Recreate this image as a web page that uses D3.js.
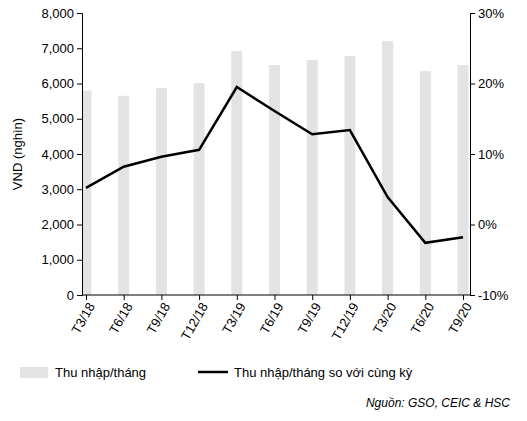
<!DOCTYPE html>
<html><head><meta charset="utf-8">
<script src="https://cdn.jsdelivr.net/npm/d3@7"></script>
<style>body{margin:0;background:#fff;font-family:Arial,"Liberation Sans",sans-serif}</style>
</head><body><svg id="c" width="527" height="421"></svg>
<script>
var categories = ['T3/18','T6/18','T9/18','T12/18','T3/19','T6/19','T9/19','T12/19','T3/20','T6/20','T9/20'];
var income = [5800, 5650, 5870, 6010, 6920, 6520, 6670, 6780, 7200, 6350, 6520];
var growth = [5.2, 8.2, 9.6, 10.6, 19.5, 16.1, 12.8, 13.4, 3.9, -2.6, -1.8];
var leftTicks = [0, 1000, 2000, 3000, 4000, 5000, 6000, 7000, 8000];
var rightTicks = [-10, 0, 10, 20, 30];

var svg = d3.select('svg#c');
var plotLeft = 82, plotRight = 470, plotTop = 13, plotBottom = 295;

var x = d3.scalePoint().domain(categories).range([86, 463]);
var y = d3.scaleLinear().domain([0, 8000]).range([plotBottom, plotTop]);
var y2 = d3.scaleLinear().domain([-10, 30]).range([plotBottom, plotTop]);

svg.append('clipPath').attr('id', 'pc')
    .append('rect').attr('x', plotLeft).attr('y', 0).attr('width', plotRight - plotLeft).attr('height', plotBottom);

svg.append('g').attr('clip-path', 'url(#pc)').selectAll('rect.bar')
    .data(income).enter().append('rect')
    .attr('x', function (d, i) { return x(categories[i]) - 5.5; })
    .attr('y', function (d) { return y(d); })
    .attr('width', 11)
    .attr('height', function (d) { return plotBottom - y(d); })
    .attr('fill', '#e3e3e3');

var fmt = d3.format(',');
var ga = svg.append('g').attr('transform', 'translate(' + plotLeft + ',0)')
    .call(d3.axisLeft(y).tickValues(leftTicks).tickFormat(fmt).tickSize(5));
var gb = svg.append('g').attr('transform', 'translate(' + plotRight + ',0)')
    .call(d3.axisRight(y2).tickValues(rightTicks).tickFormat(function (d) { return d + '%'; }).tickSize(5));
var gx = svg.append('g').attr('transform', 'translate(0,' + plotBottom + ')')
    .call(d3.axisBottom(x).tickSize(5));
gx.select('.domain').attr('d', 'M' + plotLeft + ',0H' + plotRight);
gx.selectAll('text').attr('transform', 'rotate(-60)').attr('text-anchor', 'end')
    .attr('dx', '-0.4em').attr('dy', '0.4em');
[ga, gb, gx].forEach(function (g) {
    g.selectAll('text').attr('font-size', 13).attr('fill', '#000').attr('font-family', 'Arial, Liberation Sans, sans-serif');
    g.selectAll('line,path').attr('stroke', '#000');
});

svg.append('text').attr('transform', 'translate(22,' + ((plotTop + plotBottom) / 2) + ') rotate(-90)')
    .attr('text-anchor', 'middle').attr('font-size', 13).text('VND (nghìn)');

svg.append('path').datum(growth)
    .attr('fill', 'none').attr('stroke', '#000').attr('stroke-width', 2.5)
    .attr('d', d3.line().x(function (d, i) { return x(categories[i]); }).y(function (d) { return y2(d); }));

var lg = svg.append('g').attr('font-size', 13);
lg.append('rect').attr('x', 20).attr('y', 367).attr('width', 28).attr('height', 11).attr('fill', '#e3e3e3');
lg.append('text').attr('x', 55).attr('y', 377).text('Thu nhập/tháng');
lg.append('line').attr('x1', 198).attr('x2', 228).attr('y1', 372).attr('y2', 372).attr('stroke', '#000').attr('stroke-width', 2.5);
lg.append('text').attr('x', 234).attr('y', 377).text('Thu nhập/tháng so với cùng kỳ');

svg.append('text').attr('x', 510).attr('y', 407).attr('text-anchor', 'end')
    .attr('font-size', 12).attr('font-style', 'italic').text('Nguồn: GSO, CEIC & HSC');
</script></body></html>
